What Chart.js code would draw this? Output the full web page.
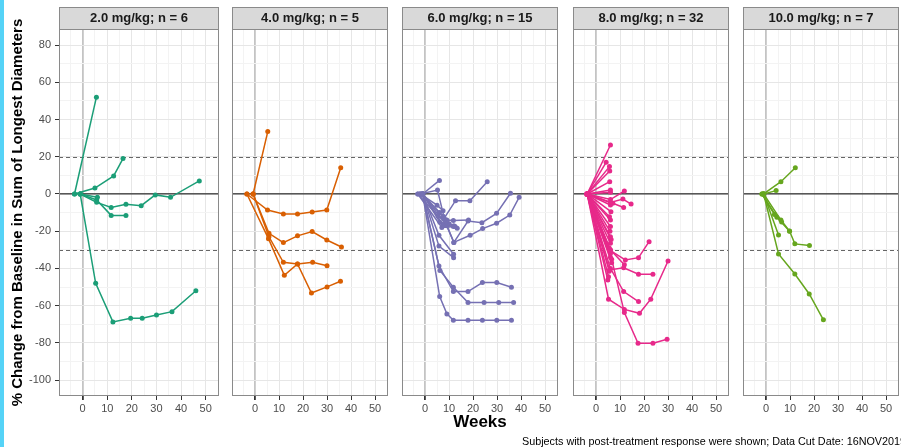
<!DOCTYPE html>
<html>
<head>
<meta charset="utf-8">
<script src="https://cdn.jsdelivr.net/npm/chart.js@4"></script>
<style>
  body { margin: 0; background: #fff; }
  #page { position: relative; width: 901px; height: 447px; overflow: hidden; background: #fff;
          font-family: "Liberation Sans", Arial, sans-serif; }
  #page canvas { position: absolute; top: 7px; }
  .edge { position: absolute; left: 0; top: 0; width: 4px; height: 447px; background: #55D3F7; }
  #xTitle { position: absolute; left: 380px; width: 200px; top: 413px; text-align: center;
            font-weight: bold; font-size: 17px; line-height: 17px; color: #000; }
  #caption { position: absolute; left: 522px; top: 436px; font-size: 10.8px; line-height: 11px;
             white-space: nowrap; color: #000; }
</style>
</head>
<body>
<div id="page">
  <div class="edge"></div>
  <canvas id="p0" width="223" height="409"></canvas>
  <canvas id="p1" width="164" height="409"></canvas>
  <canvas id="p2" width="164" height="409"></canvas>
  <canvas id="p3" width="164" height="409"></canvas>
  <canvas id="p4" width="164" height="409"></canvas>
  <div id="xTitle">Weeks</div>
  <div id="caption">Subjects with post-treatment response were shown; Data Cut Date: 16NOV2019</div>
</div>
<script>
// facet titles and colours (Dark2)
const panelTitles = ['2.0 mg/kg; n = 6', '4.0 mg/kg; n = 5', '6.0 mg/kg; n = 15', '8.0 mg/kg; n = 32', '10.0 mg/kg; n = 7'];
const doseColors = ['#1B9E77', '#D95F02', '#7570B3', '#E7298A', '#66A61E'];

// axis breaks
const xMajorTicks = [0, 10, 20, 30, 40, 50];
const xMinorTicks = [-5, 5, 15, 25, 35, 45];
const yMajorTicks = [-100, -80, -60, -40, -20, 0, 20, 40, 60, 80];
const yMinorTicks = [-90, -70, -50, -30, -10, 10, 30, 50, 70];
const solidRefLines = [0];
const dashedRefLines = [20, -30];

// one inner array per subject: weeks and % change
const dose2Weeks = [
  [-3.3, 5.6],
  [-3.3, 5.0, 12.6, 16.4],
  [-1, 5.3, 12.3, 19.5, 24.2, 30, 36.3, 46],
  [-1, 6],
  [-1, 5.7, 11.6, 17.6, 23.8, 29.5, 35.7, 47.4],
  [-1, 5.7, 11.6, 17.6]
];
const dose2Pct = [
  [0, 52],
  [0, 3.2, 9.7, 19],
  [0, -48, -68.7, -66.8, -66.8, -65, -63.2, -52],
  [0, -1.8],
  [0, -4.5, -7.2, -5.5, -6.3, -0.5, -1.8, 7],
  [0, -3.2, -11.5, -11.5]
];

const dose4Weeks = [
  [-0.8, 5.3],
  [-3.4, 5.2, 11.8, 17.7, 23.8, 29.9, 35.7],
  [-0.8, 5.8, 11.8, 17.7, 23.8, 29.9, 36],
  [-0.8, 5.8, 11.8, 17.7, 24, 30],
  [-3.4, 5.6, 12.2, 17.7, 23.5, 30, 35.6]
];
const dose4Pct = [
  [0, 33.5],
  [0, -8.6, -10.7, -10.7, -9.7, -8.6, 14.1],
  [0, -21.1, -26.1, -22.5, -20.2, -24.7, -28.5],
  [0, -23, -36.7, -37.6, -36.7, -38.5],
  [0, -24, -43.7, -37.6, -53.2, -49.9, -46.9]
];

const dose6Weeks = [
  [-1, 6],
  [-2, 5.2, 8, 12.7, 18.7, 25.9],
  [-1, 7.5, 12, 17.9, 23.7, 29.8, 35.6],
  [-1, 9, 12, 18.8, 24, 29.8, 35.3, 39.2],
  [-2, 6, 9.1, 11.8, 18.1],
  [-1, 7.5, 11.8, 13.4],
  [-3, 5.5, 9, 12],
  [-1, 5.8, 11.9],
  [-1, 5.8, 11.9],
  [-1, 5.8, 11.8, 17.9, 23.9, 29.9, 36],
  [-1, 6.2, 11.8, 17.9, 24.6, 30.7, 36.9],
  [-1, 6.1, 9.1, 11.8, 17.9, 23.9, 29.9, 36],
  [-2, 5, 7.5],
  [-1, 6.2, 10],
  [-3, 7, 12.5]
];
const dose6Pct = [
  [0, 7.3],
  [0, 2.1, -13, -3.6, -3.6, 6.6],
  [0, -12, -26, -14.5, -15.4, -10.4, 0.4],
  [0, -17, -26, -22.2, -18.6, -15.7, -11.3, -1.8],
  [0, -10, -14, -14.3, -14],
  [0, -16.6, -17.5, -18.4],
  [0, -12, -15.2, -17],
  [0, -22.2, -32.4],
  [0, -28, -34.2],
  [0, -38.7, -52.4, -52.4, -47.6, -47.6, -50.1],
  [0, -41.1, -50.1, -58.3, -58.3, -58.3, -58.3],
  [0, -55.1, -64.4, -67.8, -67.8, -67.8, -67.8, -67.8],
  [0, -6, -9],
  [0, -15.2, -16],
  [0, -18, -17.5]
];

const dose8Weeks = [
  [-3.7, 6], [-3.7, 4.2], [-3.7, 5.6], [-3.7, 5.7], [-3.7, 5.7], [-3.7, 6],
  [-3.7, 6, 11.8], [-3.7, 6, 11.2, 14.6], [-3.7, 7, 11.5],
  [-3.7, 6], [-3.7, 6.2], [-3.7, 5.6], [-3.7, 6], [-3.7, 6], [-3.7, 5.8], [-3.7, 6], [-3.7, 6],
  [-3.7, 6, 12.2, 17.7, 22.1],
  [-3.7, 5.6, 11.5, 17.7, 23.7],
  [-3.7, 6, 11.5, 17.7],
  [-3.7, 5.2, 11.8, 18.1, 22.8, 30],
  [-3.7, 6.5, 11.8, 17.5, 23.7, 29.6],
  [-3.7, 5.2], [-3.7, 4.9], [-3.7, 6], [-3.7, 6], [-3.7, 6.5], [-3.7, 5.5], [-3.7, 6],
  [-3.7, 6, 11.8], [-3.7, 5.5], [-3.7, 6.3]
];
const dose8Pct = [
  [0, 26.3], [0, 17], [0, 14.7], [0, 12.3], [0, 6.6], [0, 2.1],
  [0, -3, 1.6], [0, -4.5, -2.7, -5.4], [0, -5, -7.3],
  [0, -5.9], [0, -9.5], [0, -12.2], [0, -17.5], [0, -14], [0, -20], [0, -23], [0, -26.5],
  [0, -30.4, -35.4, -34.2, -25.6],
  [0, -40.8, -39.6, -43.1, -43.1],
  [0, -40, -52.4, -57.8],
  [0, -56.5, -62, -64.1, -56.5, -36],
  [0, -35, -63.7, -80.2, -80.2, -78],
  [0, -44.4], [0, -46.2], [0, -32], [0, -34], [0, -37], [0, -29], [0, 0.9],
  [0, -30, -38], [0, -41.5], [0, -24.5]
];

const dose10Weeks = [
  [-1, 6.2, 12.2],
  [-1, 4.2],
  [-1, 5.2, 12, 18, 23.9],
  [-1, 5.2],
  [-1, 6.2, 9.8, 12, 18.1],
  [-1.7, 3.5, 6.5],
  [-1.7, 4.5, 9.8]
];
const dose10Pct = [
  [0, 6.6, 14.1],
  [0, 1.8],
  [0, -32.2, -43, -53.7, -67.6],
  [0, -22],
  [0, -14, -19.9, -26.8, -27.7],
  [0, -11, -15],
  [0, -12.5, -20]
];

const panelWeeks = [dose2Weeks, dose4Weeks, dose6Weeks, dose8Weeks, dose10Weeks];
const panelPct = [dose2Pct, dose4Pct, dose6Pct, dose8Pct, dose10Pct];

// layout
const canvasLefts = [0, 228, 398, 569, 739];
const FONT = '"Liberation Sans", Arial, sans-serif';
Chart.defaults.font.family = FONT;

const xAllTicks = [...xMajorTicks, ...xMinorTicks].sort((a, b) => a - b);
const yAllTicks = [...yMajorTicks, ...yMinorTicks].sort((a, b) => a - b);

// strip, reference lines and panel border in ggplot style
const facetPlugin = {
    id: 'facet',
    beforeDatasetsDraw(chart) {
        const { ctx, chartArea: a, scales: { y } } = chart;
        ctx.save();
        ctx.lineWidth = 1;
        ctx.strokeStyle = '#666';
        ctx.setLineDash([4, 3]);
        dashedRefLines.forEach(v => {
            const py = Math.round(y.getPixelForValue(v)) + 0.5;
            ctx.beginPath(); ctx.moveTo(a.left, py); ctx.lineTo(a.right, py); ctx.stroke();
        });
        ctx.setLineDash([]);
        ctx.lineWidth = 1.3;
        ctx.strokeStyle = '#333';
        solidRefLines.forEach(v => {
            const py = y.getPixelForValue(v);
            ctx.beginPath(); ctx.moveTo(a.left, py); ctx.lineTo(a.right, py); ctx.stroke();
        });
        ctx.restore();
    },
    afterDraw(chart, args, opts) {
        const { ctx, chartArea: a } = chart;
        ctx.save();
        ctx.strokeStyle = '#8a8a8a';
        ctx.lineWidth = 1;
        ctx.strokeRect(a.left + 0.5, a.top + 0.5, a.right - a.left - 1, a.bottom - a.top - 1);
        // strip
        ctx.fillStyle = '#D9D9D9';
        ctx.fillRect(a.left, a.top - 22, a.right - a.left, 22);
        ctx.strokeRect(a.left + 0.5, a.top - 22 + 0.5, a.right - a.left - 1, 22);
        ctx.fillStyle = '#1A1A1A';
        ctx.font = 'bold 13px ' + FONT;
        ctx.textAlign = 'center';
        ctx.textBaseline = 'middle';
        ctx.fillText(opts.title, (a.left + a.right) / 2, a.top - 10.5);
        ctx.restore();
    }
};

function gridColor(value, major) {
    if (value === 0) return '#C4C4C4';
    return major.includes(value) ? '#E6E6E6' : '#F3F3F3';
}

panelTitles.forEach((title, i) => {
    const first = i === 0;
    const canvas = document.getElementById('p' + i);
    canvas.style.left = canvasLefts[i] + 'px';
    const color = doseColors[i];

    const datasets = panelWeeks[i].map((weeks, s) => ({
        data: weeks.map((w, j) => ({ x: w, y: panelPct[i][s][j] })),
        borderColor: color,
        backgroundColor: color,
        pointBackgroundColor: color
    }));

    new Chart(canvas, {
        type: 'line',
        data: { datasets },
        plugins: [facetPlugin],
        options: {
            responsive: false,
            animation: false,
            events: [],
            layout: { padding: { top: 22, left: 0, right: 0, bottom: 0 } },
            elements: {
                line: { borderWidth: 1.5, tension: 0 },
                point: { radius: 2.5, borderWidth: 0 }
            },
            plugins: {
                legend: { display: false },
                tooltip: { enabled: false },
                facet: { title }
            },
            scales: {
                x: {
                    type: 'linear',
                    min: -9.6,
                    max: 55.4,
                    afterBuildTicks: s => { s.ticks = xAllTicks.map(v => ({ value: v })); },
                    afterFit: s => { s.height = 20; },
                    border: { display: false },
                    grid: {
                        color: c => gridColor(c.tick.value, xMajorTicks),
                        lineWidth: c => c.tick.value === 0 ? 1.8 : 1,
                        tickLength: 4,
                        tickColor: c => xMajorTicks.includes(c.tick.value) ? '#333' : 'rgba(0,0,0,0)'
                    },
                    ticks: {
                        autoSkip: false,
                        maxRotation: 0,
                        padding: 2,
                        color: '#4D4D4D',
                        font: { size: 11 },
                        callback: v => xMajorTicks.includes(v) ? String(v) : ''
                    }
                },
                y: {
                    min: -108.5,
                    max: 88.6,
                    afterBuildTicks: s => { s.ticks = yAllTicks.map(v => ({ value: v })); },
                    afterFit: s => { s.width = first ? 59 : 0; },
                    border: { display: false },
                    title: {
                        display: first,
                        text: '% Change from Baseline in Sum of Longest Diameters',
                        color: '#000',
                        font: { size: 15, weight: 'bold' },
                        padding: { top: 8.5, bottom: 0 }
                    },
                    grid: {
                        color: c => gridColor(c.tick.value, yMajorTicks),
                        lineWidth: 1,
                        drawTicks: first,
                        tickLength: 4,
                        tickColor: c => yMajorTicks.includes(c.tick.value) ? '#333' : 'rgba(0,0,0,0)'
                    },
                    ticks: {
                        display: first,
                        autoSkip: false,
                        padding: 4,
                        color: '#4D4D4D',
                        font: { size: 11 },
                        callback: v => yMajorTicks.includes(v) ? String(v) : ''
                    }
                }
            }
        }
    });
});
</script>
</body>
</html>
